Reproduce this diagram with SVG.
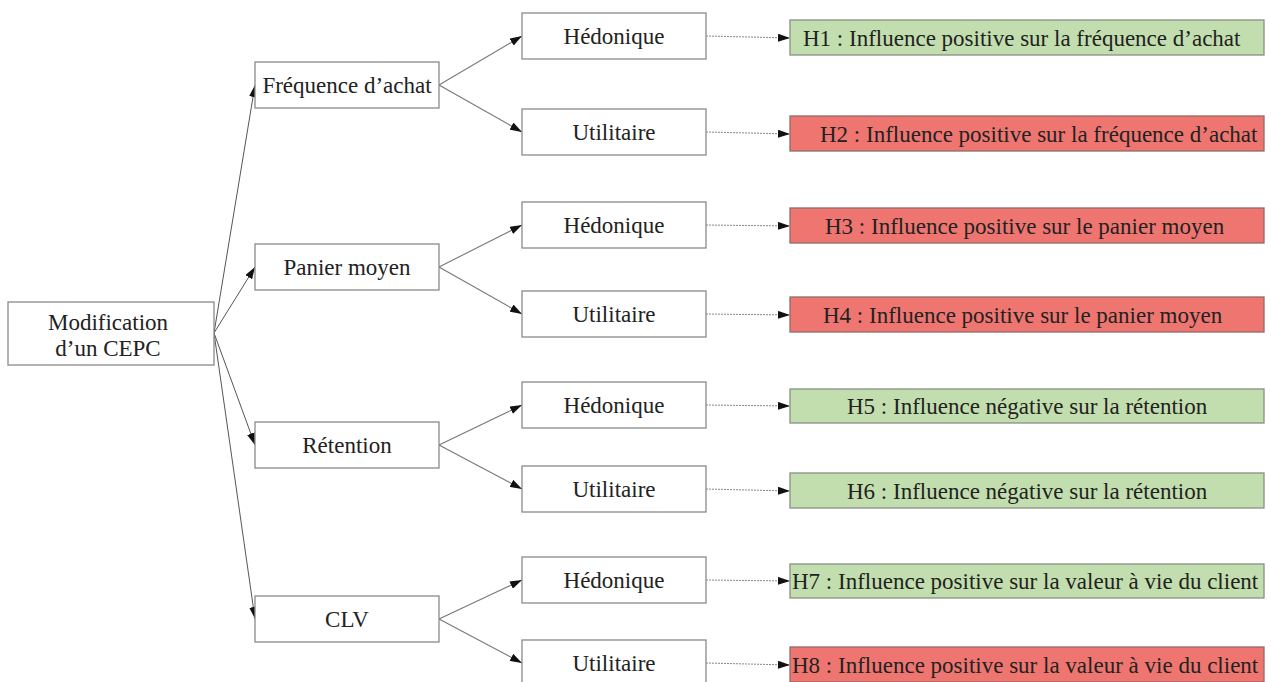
<svg xmlns="http://www.w3.org/2000/svg" width="1271" height="682" viewBox="0 0 1271 682">
<defs>
<marker id="ah" viewBox="0 0 12 8" refX="12" refY="4" markerWidth="12" markerHeight="8" markerUnits="userSpaceOnUse" orient="auto"><path d="M0,0 L12,4 L0,8 z" fill="#111"/></marker>
<style>
.box{fill:#fff;stroke:#8a8a8a;stroke-width:1.3}
.g{fill:#c3deae;stroke:#8a8f86;stroke-width:1.3}
.r{fill:#ef7670;stroke:#8f6a68;stroke-width:1.3}
text{font-family:"Liberation Serif","Times New Roman",serif;font-size:23px;fill:#222}
.c{text-anchor:middle}
.a{fill:none;stroke:#555;stroke-width:1;marker-end:url(#ah)}
.b{fill:none;stroke:#777;stroke-width:1.1;marker-end:url(#ah)}
.d{fill:none;stroke:#888;stroke-width:1;stroke-dasharray:2 1;marker-end:url(#ah)}
</style>
</defs>
<rect width="1271" height="682" fill="#fff"/>
<g id="connectors">
<path class="a" d="M214,333 L255,85"/>
<path class="a" d="M214,333 L255,267"/>
<path class="a" d="M214,333 L255,445"/>
<path class="a" d="M214,333 L255,619"/>
<path class="b" d="M439,85 L522,36"/>
<path class="b" d="M439,85 L522,132"/>
<path class="b" d="M439,267 L522,225"/>
<path class="b" d="M439,267 L522,314"/>
<path class="b" d="M439,445 L522,405"/>
<path class="b" d="M439,445 L522,489"/>
<path class="b" d="M439,619 L522,580"/>
<path class="b" d="M439,619 L522,663"/>
<path class="d" d="M706,36 L790,38"/>
<path class="d" d="M706,132 L790,134"/>
<path class="d" d="M706,225 L790,226"/>
<path class="d" d="M706,314 L790,315"/>
<path class="d" d="M706,405 L790,406"/>
<path class="d" d="M706,489 L790,491"/>
<path class="d" d="M706,580 L790,581"/>
<path class="d" d="M706,663 L790,665"/>
</g>
<g id="root"><rect class="box" x="8" y="302" width="206" height="63"/><text class="c" x="108" y="330">Modification</text><text class="c" x="108" y="356">d’un CEPC</text></g>
<g id="freq"><rect class="box" x="255" y="62" width="184" height="46"/><text class="c" x="347" y="93">Fréquence d’achat</text></g>
<g id="panier"><rect class="box" x="255" y="244" width="184" height="46"/><text class="c" x="347" y="275">Panier moyen</text></g>
<g id="retention"><rect class="box" x="255" y="422" width="184" height="46"/><text class="c" x="347" y="453">Rétention</text></g>
<g id="clv"><rect class="box" x="255" y="596" width="184" height="46"/><text class="c" x="347" y="627">CLV</text></g>
<g id="hed1"><rect class="box" x="522" y="13" width="184" height="46"/><text class="c" x="614" y="44">Hédonique</text></g>
<g id="uti1"><rect class="box" x="522" y="109" width="184" height="46"/><text class="c" x="614" y="140">Utilitaire</text></g>
<g id="hed2"><rect class="box" x="522" y="202" width="184" height="46"/><text class="c" x="614" y="233">Hédonique</text></g>
<g id="uti2"><rect class="box" x="522" y="291" width="184" height="46"/><text class="c" x="614" y="322">Utilitaire</text></g>
<g id="hed3"><rect class="box" x="522" y="382" width="184" height="46"/><text class="c" x="614" y="413">Hédonique</text></g>
<g id="uti3"><rect class="box" x="522" y="466" width="184" height="46"/><text class="c" x="614" y="497">Utilitaire</text></g>
<g id="hed4"><rect class="box" x="522" y="557" width="184" height="46"/><text class="c" x="614" y="588">Hédonique</text></g>
<g id="uti4"><rect class="box" x="522" y="640" width="184" height="46"/><text class="c" x="614" y="671">Utilitaire</text></g>
<g id="h1"><rect class="g" x="790" y="20" width="474" height="35"/><text x="803" y="46">H1 : Influence positive sur la fréquence d’achat</text></g>
<g id="h2"><rect class="r" x="790" y="116" width="474" height="35"/><text x="820" y="142">H2 : Influence positive sur la fréquence d’achat</text></g>
<g id="h3"><rect class="r" x="790" y="208" width="474" height="35"/><text x="825" y="234">H3 : Influence positive sur le panier moyen</text></g>
<g id="h4"><rect class="r" x="790" y="297" width="474" height="35"/><text x="823" y="323">H4 : Influence positive sur le panier moyen</text></g>
<g id="h5"><rect class="g" x="790" y="389" width="474" height="34"/><text x="847" y="414">H5 : Influence négative sur la rétention</text></g>
<g id="h6"><rect class="g" x="790" y="473" width="474" height="35"/><text x="847" y="499">H6 : Influence négative sur la rétention</text></g>
<g id="h7"><rect class="g" x="790" y="564" width="474" height="34"/><text x="792" y="589">H7 : Influence positive sur la valeur à vie du client</text></g>
<g id="h8"><rect class="r" x="790" y="647" width="474" height="35"/><text x="792" y="673">H8 : Influence positive sur la valeur à vie du client</text></g>
</svg>
